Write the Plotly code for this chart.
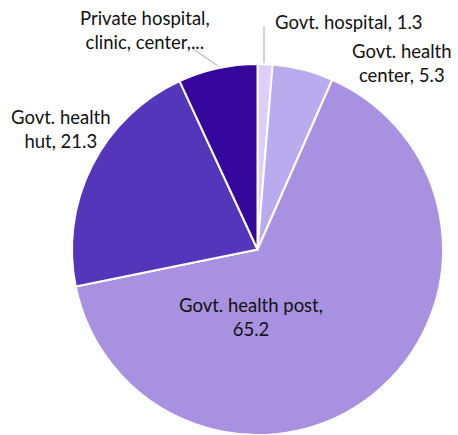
import plotly.graph_objects as go

# Place of delivery / treatment shares (%)
categories = [
    "Govt. hospital",
    "Govt. health center",
    "Govt. health post",
    "Govt. health hut",
    "Private hospital, clinic, center,...",
]
values = [1.3, 5.3, 65.2, 21.3, 6.9]
colors = ["#dcd0fa", "#b9abed", "#a891e1", "#5336b9", "#36079d"]

# Label text (line-broken) and label centres in pixels
label_text = [
    "Govt. hospital, 1.3",
    "Govt. health<br>center, 5.3",
    "Govt. health post,<br>65.2",
    "Govt. health<br>hut, 21.3",
    "Private hospital,<br>clinic, center,...",
]
label_px = [(349, 22), (402, 63), (251, 317), (61, 129), (145, 30)]

W, H = 458, 435
FONT = "Lato"

fig = go.Figure(
    go.Pie(
        labels=categories,
        values=values,
        sort=False,
        direction="clockwise",
        rotation=0,
        marker=dict(colors=colors, line=dict(color="white", width=2)),
        textinfo="none",
        hoverinfo="label+value",
        showlegend=False,
        domain=dict(x=[72 / W, 443 / W], y=[0.0, (H - 64) / H]),
    )
)

for txt, (px, py) in zip(label_text, label_px):
    fig.add_annotation(
        x=px / W, y=1 - py / H, xref="paper", yref="paper",
        text=txt, showarrow=False, xanchor="center", yanchor="middle",
        font=dict(family=FONT, size=18.5, color="#111111"),
    )

# Leader lines for the small outer labels
leaders = [((264, 26), (264, 63)), ((193, 49), (218, 66))]
for (x0, y0), (x1, y1) in leaders:
    fig.add_shape(
        type="line", xref="paper", yref="paper",
        x0=x0 / W, y0=1 - y0 / H, x1=x1 / W, y1=1 - y1 / H,
        line=dict(color="#a6a6a6", width=1),
    )

fig.update_layout(
    width=W, height=H,
    margin=dict(l=0, r=0, t=0, b=0),
    paper_bgcolor="white", plot_bgcolor="white",
)

fig.write_html("out.html")
